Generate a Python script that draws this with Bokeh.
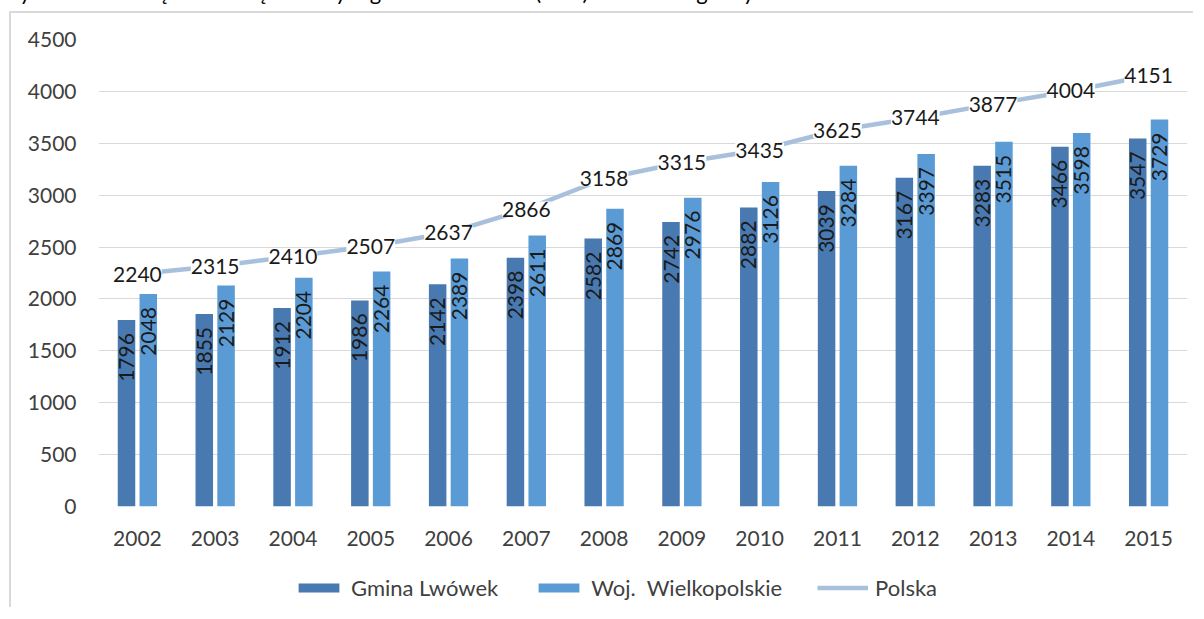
import math
from bokeh.plotting import figure
from bokeh.models import ColumnDataSource, FactorRange, Range1d, Legend, LegendItem, FixedTicker, Div
from bokeh.transform import dodge
from bokeh.layouts import column
from bokeh.core.properties import value
from bokeh.embed import file_html
from bokeh.resources import INLINE

# ---------------- data ----------------
title_text = "Wykres 8. Przeciętne miesięczne wynagrodzenie brutto (PLN) na terenie gminy Lwówek w latach 2002-2015"
years = ["2002", "2003", "2004", "2005", "2006", "2007", "2008",
         "2009", "2010", "2011", "2012", "2013", "2014", "2015"]
gmina = [1796, 1855, 1912, 1986, 2142, 2398, 2582, 2742, 2882, 3039, 3167, 3283, 3466, 3547]
woj = [2048, 2129, 2204, 2264, 2389, 2611, 2869, 2976, 3126, 3284, 3397, 3515, 3598, 3729]
polska = [2240, 2315, 2410, 2507, 2637, 2866, 3158, 3315, 3435, 3625, 3744, 3877, 4004, 4151]
y_ticks = [0, 500, 1000, 1500, 2000, 2500, 3000, 3500, 4000, 4500]
series_names = ["Gmina Lwówek", "Woj.  Wielkopolskie", "Polska"]

# ---------------- style ----------------
FONT = "Lato"
DARK = "#4879B0"
LIGHT = "#5B9BD5"
LINE = "#A9C0DD"
GRID = "#D9D9D9"
AXIS_TXT = "#404040"
LBL_TXT = "#1A1A1A"

source = ColumnDataSource(dict(
    year=years,
    gmina=gmina, woj=woj, polska=polska,
    gmina_lbl=[str(v) for v in gmina],
    woj_lbl=[str(v) for v in woj],
    polska_lbl=[str(v) for v in polska],
))

p = figure(
    width=1184, height=545,
    x_range=FactorRange(factors=years, range_padding=0),
    y_range=Range1d(0, 4500),
    output_backend="svg", toolbar_location=None, title=None,
    min_border_left=87, min_border_right=8, min_border_top=26, min_border_bottom=52,
)
p.outline_line_color = None
p.background_fill_color = "white"
p.border_fill_color = "white"

r_g = p.vbar(x=dodge("year", -0.14, range=p.x_range), top="gmina", width=0.225,
             source=source, fill_color=DARK, line_color=None)
r_w = p.vbar(x=dodge("year", 0.14, range=p.x_range), top="woj", width=0.225,
             source=source, fill_color=LIGHT, line_color=None)
r_p = p.line(x="year", y="polska", source=source, line_color=LINE, line_width=4.5,
             line_join="round", line_cap="round")

# bar labels (rotated, inside end)
for col, off in (("gmina", -0.14), ("woj", 0.14)):
    p.text(x=dodge("year", off, range=p.x_range), y=col, text=col + "_lbl", source=source,
           angle=math.pi / 2, text_align="right", text_baseline="middle",
           y_offset=13, text_font=value(FONT), text_font_size="21px", text_color=LBL_TXT)

# line labels (centered on points with white box)
p.text(x="year", y="polska", text="polska_lbl", source=source,
       text_align="center", text_baseline="middle",
       text_font=value(FONT), text_font_size="21px", text_color=LBL_TXT,
       background_fill_color="white")

# axes
p.yaxis.ticker = FixedTicker(ticks=y_ticks)
for ax in (p.xaxis[0], p.yaxis[0]):
    ax.axis_line_color = None
    ax.major_tick_line_color = None
    ax.minor_tick_line_color = None
    ax.major_tick_out = 0
    ax.major_tick_in = 0
    ax.minor_tick_out = 0
    ax.major_label_text_font = FONT
    ax.major_label_text_font_size = "21px"
    ax.major_label_text_color = AXIS_TXT
p.yaxis.major_label_standoff = 22
p.xaxis.major_label_standoff = 24
p.xgrid.grid_line_color = None
p.ygrid.grid_line_color = GRID
p.ygrid.grid_line_width = 1

p.styles = {"border-left": f"2px solid {GRID}", "border-top": f"2px solid {GRID}",
            "margin-left": "9px"}

# ---------------- legend strip (separate small figure) ----------------
lf = figure(width=1184, height=51, x_range=Range1d(0, 1), y_range=Range1d(0, 1),
            output_backend="svg", toolbar_location=None, title=None,
            x_axis_location=None, y_axis_location=None, min_border=0)
lf.outline_line_color = None
lf.grid.visible = False
lf.styles = {"border-left": f"2px solid {GRID}", "margin-left": "9px"}
# hidden proxy renderers (outside the visible range) that only feed the legend swatches
proxy = ColumnDataSource(dict(x=[-5.0], top=[-5.0], y=[-5.0]))
lg_g = lf.vbar(x="x", top="top", width=0.1, source=proxy, fill_color=DARK, line_color=None)
lg_w = lf.vbar(x="x", top="top", width=0.1, source=proxy, fill_color=LIGHT, line_color=None)
lg_p = lf.line(x="x", y="y", source=proxy, line_color=LINE, line_width=4.5)

legend = Legend(
    items=[LegendItem(label=series_names[0], renderers=[lg_g]),
           LegendItem(label=series_names[1], renderers=[lg_w]),
           LegendItem(label=series_names[2], renderers=[lg_p])],
    location=(195, 6), orientation="horizontal",
    spacing=35, glyph_width=51, glyph_height=11, label_standoff=7,
    padding=0, margin=0, border_line_color=None, background_fill_alpha=0,
    label_text_font=FONT, label_text_font_size="22px", label_text_color=AXIS_TXT,
    label_height=22,
)
lf.add_layout(legend)

title_div = Div(text=title_text, width=1188, height=25,
                styles={"margin-top": "-19px", "text-indent": "-8px",
                        "font-family": FONT, "font-size": "22px", "line-height": "22px",
                        "color": "#000000", "white-space": "nowrap", "overflow": "visible"})

layout = column(title_div, p, lf)
open("out.html", "w").write(file_html(layout, INLINE))
